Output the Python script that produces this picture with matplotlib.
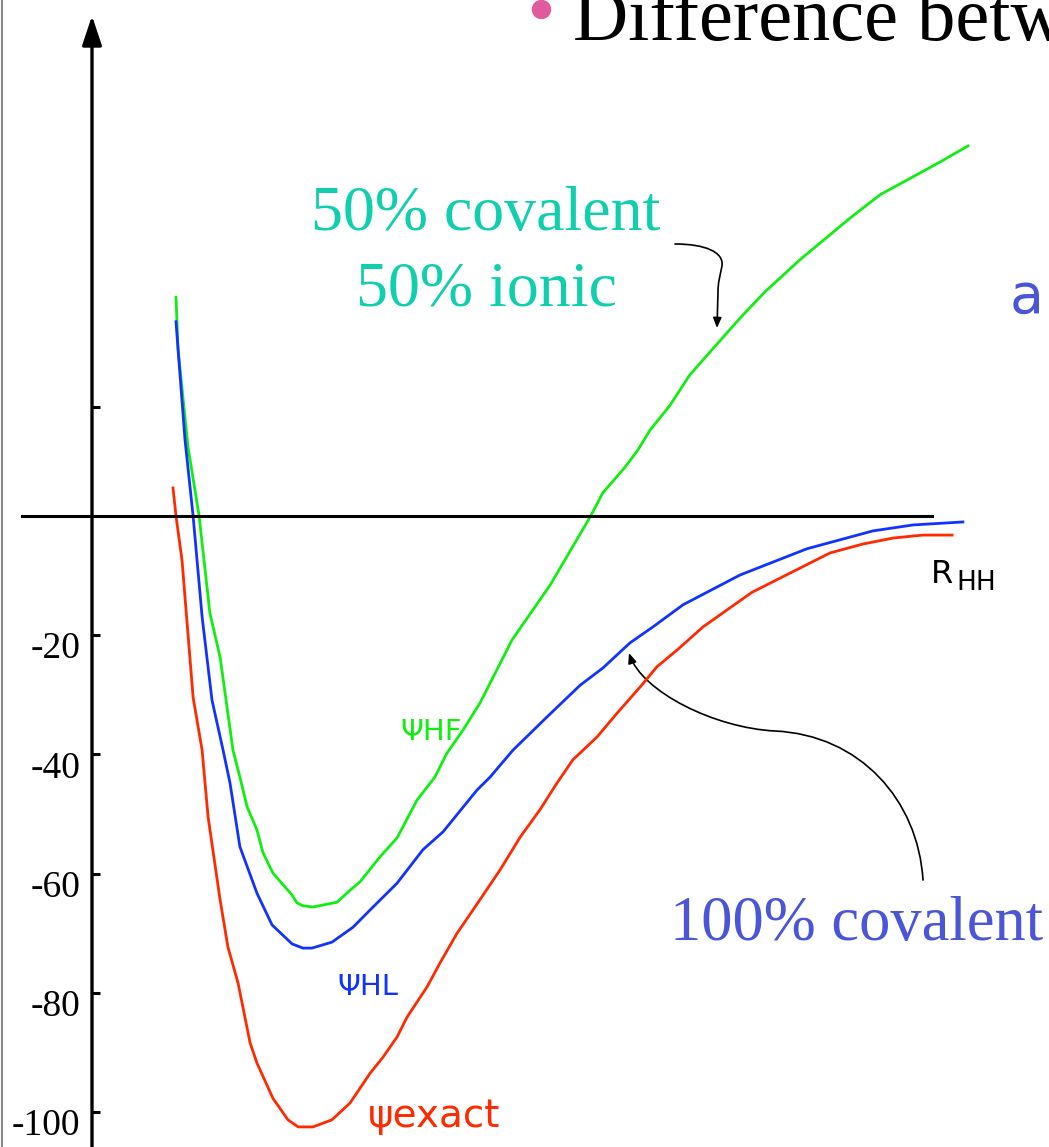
import matplotlib
matplotlib.use("Agg")
import matplotlib.pyplot as plt
import matplotlib.transforms as mtransforms
from matplotlib.patches import FancyArrowPatch
from matplotlib.path import Path

# potential energy curves of H2 (R in angstrom, E in kcal/mol)
r_hf = [0.280, 0.287, 0.320, 0.357, 0.393, 0.427, 0.470, 0.493, 0.517, 0.550, 0.570,
        0.603, 0.667, 0.683, 0.703, 0.737, 0.817, 0.860, 0.893, 0.960, 1.017, 1.083,
        1.143, 1.183, 1.237, 1.293, 1.383, 1.400, 1.527, 1.660, 1.703, 1.777, 1.820,
        1.860, 1.927, 1.993, 2.160, 2.243, 2.360, 2.527, 2.627, 2.827, 2.920]
e_hf = [36.7, 27.9, 11.6, 0.0, -16.3, -23.7, -39.3, -43.8, -48.8, -52.7, -56.5,
        -59.9, -63.6, -64.9, -65.4, -65.6, -64.8, -62.8, -61.4, -57.2, -54.0, -47.7,
        -43.8, -39.8, -35.9, -31.4, -22.5, -20.8, -11.6, -0.2, 3.9, 8.2, 11.1,
        14.4, 18.6, 23.7, 33.2, 37.6, 43.0, 50.0, 53.9, 59.4, 62.1]

r_hl = [0.280, 0.287, 0.310, 0.337, 0.367, 0.400, 0.437, 0.460, 0.493, 0.550, 0.600,
        0.667, 0.703, 0.733, 0.800, 0.870, 0.927, 1.017, 1.103, 1.170, 1.283, 1.327,
        1.403, 1.517, 1.627, 1.703, 1.793, 1.870, 1.970, 2.160, 2.383, 2.603, 2.737, 2.903]
e_hl = [32.6, 27.9, 12.8, 0.0, -16.9, -30.9, -39.3, -44.8, -55.5, -63.3, -68.6,
        -71.8, -72.5, -72.5, -71.5, -69.0, -66.1, -61.6, -56.0, -53.0, -46.0, -43.8,
        -39.3, -33.7, -28.4, -25.5, -21.3, -18.6, -14.9, -9.9, -5.5, -2.5, -1.5, -1.0]

r_ex = [0.270, 0.280, 0.300, 0.337, 0.367, 0.387, 0.427, 0.453, 0.487, 0.527, 0.550,
        0.603, 0.653, 0.687, 0.737, 0.800, 0.860, 0.927, 0.970, 1.017, 1.050, 1.117,
        1.160, 1.217, 1.270, 1.360, 1.427, 1.493, 1.550, 1.603, 1.683, 1.750, 1.827,
        1.883, 1.950, 2.037, 2.200, 2.460, 2.570, 2.670, 2.770, 2.867]
e_ex = [4.7, 0.0, -7.4, -30.4, -39.3, -50.5, -64.4, -72.3, -78.4, -88.4, -91.8,
        -97.7, -101.3, -102.5, -102.5, -101.3, -98.5, -93.5, -90.8, -87.4, -84.1, -79.0,
        -75.0, -70.0, -66.1, -59.4, -53.9, -49.3, -44.8, -40.9, -37.1, -33.1, -28.7,
        -25.3, -22.5, -18.6, -12.8, -6.2, -4.7, -3.7, -3.2, -3.2]

ytick_vals = [18.3, -20, -40, -60, -80, -100]
ytick_labels = ["", "-20", "-40", "-60", "-80", "-100"]

W, H = 1049, 1147
fig = plt.figure(figsize=(W / 100, H / 100), dpi=100)

# pixel overlay for slide decorations (below the curves)
deco = fig.add_axes([0, 0, 1, 1], zorder=0)
deco.set_xlim(0, W)
deco.set_ylim(H, 0)
deco.axis("off")

ax = fig.add_axes([0, 0, 1, 1], zorder=1)
ax.set_facecolor("none")
ax.set_xlim(-92 / 300, (W - 92) / 300)
ax.set_ylim(-(H - 516) / 5.96, 516 / 5.96)

ax.plot(r_hf, e_hf, color="#11ee11", lw=2.0)
ax.plot(r_hl, e_hl, color="#1133ff", lw=2.0)
ax.plot(r_ex, e_ex, color="#ff2a00", lw=2.0)
ax.axhline(0, xmin=22 / W, xmax=932 / W, color="black", lw=2.2)

for s in ["top", "right", "bottom"]:
    ax.spines[s].set_visible(False)
ax.spines["left"].set_position(("data", 0))
ax.spines["left"].set_color("none")
ax.set_xticks([])
ax.set_yticks(ytick_vals)
ax.set_yticklabels(ytick_labels, family="Liberation Serif", fontsize=27)
ax.tick_params(axis="y", direction="in", length=6, width=2.2, pad=8.5, color="black")
shift = mtransforms.ScaledTranslation(0, -0.1, fig.dpi_scale_trans)
for lab in ax.get_yticklabels():
    lab.set_transform(lab.get_transform() + shift)

# y axis with arrow head
deco.add_patch(FancyArrowPatch((92, H + 5), (92, 13), arrowstyle="-|>,head_length=0.9,head_width=0.3",
                               mutation_scale=20, lw=2.4, color="black"))
deco.axvline(1.5, color="#888888", lw=1.5)

# slide title fragment
deco.plot([541], [9], "o", ms=14, color="#e05a9e", mec="none")
deco.text(573, 40, "Difference betw", family="Liberation Serif", fontsize=55, va="baseline", color="black")

teal = "#10cfae"
violet = "#4a55d8"
deco.text(486, 230, "50% covalent", family="Liberation Serif", fontsize=46, ha="center", va="baseline", color=teal)
deco.text(486, 305, "50% ionic", family="Liberation Serif", fontsize=46, ha="center", va="baseline", color=teal)
deco.text(670, 940, "100% covalent", family="Liberation Serif", fontsize=45, va="baseline", color=violet)
deco.text(1010, 313, "a", family="DejaVu Sans", fontsize=40, va="baseline", color=violet)

deco.text(400, 740, "ΨHF", family="DejaVu Sans", fontsize=21, va="baseline", color="#11ee11")
deco.text(337, 995, "ΨHL", family="DejaVu Sans", fontsize=21, va="baseline", color="#1133ff")
deco.text(368, 1127, "ψexact", family="DejaVu Sans", fontsize=28, va="baseline", color="#ff2a00")
deco.text(931, 583, "R", family="DejaVu Sans", fontsize=23, va="baseline", color="black")
deco.text(956, 590, "HH", family="DejaVu Sans", fontsize=19, va="baseline", color="black")

# annotation arrows
p1 = Path([(675, 244), (705, 244), (724, 252), (722, 266), (720, 276), (718, 282), (718, 292), (717, 328)],
          [Path.MOVETO, Path.CURVE4, Path.CURVE4, Path.CURVE4, Path.CURVE4, Path.CURVE4, Path.CURVE4, Path.LINETO])
deco.add_patch(FancyArrowPatch(path=p1, arrowstyle="-|>,head_length=0.6,head_width=0.25",
                               mutation_scale=10, lw=1.2, color="black", transform=deco.transData))
p2 = Path([(923, 880), (918, 800), (860, 735), (775, 731), (715, 728), (642, 692), (629, 653)],
          [Path.MOVETO, Path.CURVE4, Path.CURVE4, Path.CURVE4, Path.CURVE4, Path.CURVE4, Path.CURVE4])
deco.add_patch(FancyArrowPatch(path=p2, arrowstyle="-|>,head_length=0.6,head_width=0.25",
                               mutation_scale=10, lw=1.2, color="black", transform=deco.transData))

fig.savefig("out.png", dpi=100)
